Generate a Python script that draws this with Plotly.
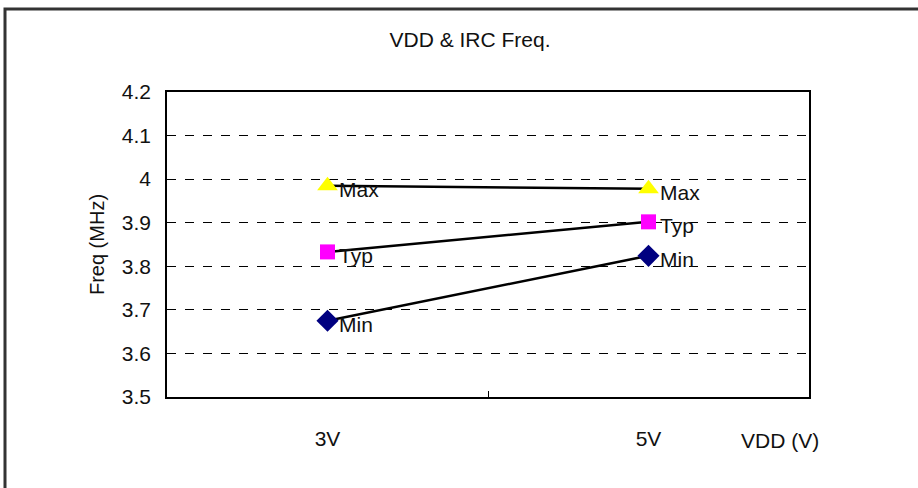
import plotly.graph_objects as go

categories = ["3V", "5V"]
max_vals = [3.985, 3.978]
typ_vals = [3.833, 3.902]
min_vals = [3.675, 3.824]
series_names = ["Max", "Typ", "Min"]
y_ticks = [3.5, 3.6, 3.7, 3.8, 3.9, 4.0, 4.1, 4.2]
y_ticklabels = ["3.5", "3.6", "3.7", "3.8", "3.9", "4", "4.1", "4.2"]

FONT = "Liberation Sans, Arial, sans-serif"
TXT = "#111111"
FS = 21

fig = go.Figure()
styles = [
    (max_vals, "triangle-up", "#FFFF00", 18),
    (typ_vals, "square", "#FF00FF", 15),
    (min_vals, "diamond", "#000080", 17),
]
for name, (vals, sym, col, sz) in zip(series_names, styles):
    fig.add_trace(go.Scatter(
        x=categories, y=vals, name=name,
        mode="lines+markers",
        line=dict(color="black", width=2.5),
        marker=dict(symbol=sym, color=col, size=sz, line=dict(width=0)),
        cliponaxis=False,
    ))
    for cat, v in zip(categories, vals):
        fig.add_annotation(x=cat, y=v, text=name, showarrow=False,
                           xanchor="left", yanchor="middle",
                           xshift=9, yshift=-4,
                           font=dict(family=FONT, size=FS, color=TXT))

fig.update_layout(
    width=918, height=488,
    margin=dict(l=167, r=109, t=92, b=91),
    paper_bgcolor="white", plot_bgcolor="white",
    showlegend=False,
    font=dict(family=FONT, size=FS, color=TXT),
    title=dict(text="VDD & IRC Freq.", x=(470 - 167) / 642, xref="paper", xanchor="center",
               y=1 - 40/488, yanchor="middle",
               font=dict(family=FONT, size=FS, color=TXT)),
)
fig.update_xaxes(
    type="category", range=[-0.5, 1.5],
    showline=True, linecolor="black", linewidth=1.5, mirror=True,
    showgrid=False, ticks="inside", tickson="boundaries", ticklen=6,
    tickcolor="black", ticklabelstandoff=22,
    tickfont=dict(family=FONT, size=FS, color=TXT),
)
fig.update_yaxes(
    range=[3.5, 4.2], tickvals=y_ticks, ticktext=y_ticklabels,
    showline=True, linecolor="black", linewidth=1.5, mirror=True,
    showgrid=True, gridcolor="black", griddash="dash", gridwidth=1,
    ticks="", ticklabelstandoff=10,
    tickfont=dict(family=FONT, size=FS, color=TXT),
    title=dict(text="Freq (MHz)", standoff=12, font=dict(family=FONT, size=20, color=TXT)),
)
fig.add_annotation(text="VDD (V)", xref="paper", yref="paper",
                   x=(780 - 167) / 642, y=(397 - 440) / 305,
                   showarrow=False, xanchor="center", yanchor="middle",
                   font=dict(family=FONT, size=FS, color=TXT))
# outer chart border
fig.add_shape(type="rect", xref="paper", yref="paper",
              x0=(5 - 167) / 642, x1=(930 - 167) / 642,
              y0=(397 - 500) / 305, y1=(397 - 9) / 305,
              line=dict(color="#333333", width=3), layer="below")

fig.write_html("out.html", config={"displayModeBar": False},
               post_script="document.body.style.margin='0';document.body.style.padding='0';")
